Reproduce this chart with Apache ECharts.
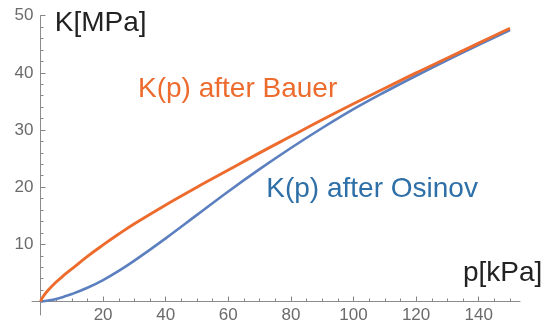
<!DOCTYPE html>
<html>
<head>
<meta charset="utf-8">
<script src="https://cdn.jsdelivr.net/npm/echarts@6/dist/echarts.min.js"></script>
<style>
  html, body { margin: 0; padding: 0; background: #ffffff; }
  #chart { width: 553px; height: 325px; }
</style>
</head>
<body>
<div id="chart"></div>
<script>
// Pressure p [kPa] at which both stiffness curves are sampled
const pressure = [0, 0.5, 1, 2.5, 5, 7.5, 10, 15, 20, 25, 30, 40, 50, 60, 70, 80, 90, 100, 110, 120, 130, 140, 150];
// Bulk modulus K [MPa] after Bauer
const kBauer   = [0, 0.55, 1.0, 2.0, 3.4, 4.6, 5.7, 7.9, 9.9, 11.8, 13.6, 16.9, 20.0, 23.0, 26.0, 28.9, 31.8, 34.6, 37.3, 40.0, 42.6, 45.2, 47.8];
// Bulk modulus K [MPa] after Osinov
const kOsinov  = [0, 0.02, 0.05, 0.17, 0.45, 0.85, 1.3, 2.4, 3.75, 5.35, 7.15, 11.05, 15.15, 19.25, 23.15, 26.85, 30.35, 33.65, 36.65, 39.5, 42.25, 44.9, 47.5];

// Tick label values
const xTickLabels = [20, 40, 60, 80, 100, 120, 140];
const yTickLabels = [10, 20, 30, 40, 50];

const FONT = 'Liberation Sans';
const AXIS_COLOR = '#8c8c8c';
const TICK_COLOR = '#858585';
const LABEL_COLOR = '#6b6b6b';
const ORANGE = '#EC6B2D';
const BLUE = '#5B7FBF';

// Layout: p = 0 sits at x = 40.5 px and K = 0 at y = 301.5 px,
// 3.13 px per kPa and 5.716 px per MPa.
const X0 = 40.5, Y0 = 301.5, PX_PER_KPA = 3.13, PX_PER_MPA = 5.716, TOP = 15.7;
const MAJOR_LEN = 5, MINOR_LEN = 3;

const chart = echarts.init(document.getElementById('chart'), null, { renderer: 'canvas' });

// Tick marks are drawn as split lines of thin strip grids lying along the axes
function tickStripAxis(gridIndex, min, max, interval, labels, margin) {
  return {
    gridIndex: gridIndex, type: 'value', min: min, max: max, interval: interval,
    axisLine: { show: false },
    axisTick: { show: false },
    axisLabel: labels
      ? { show: true, margin: margin, color: LABEL_COLOR, fontFamily: FONT, fontSize: 17,
          formatter: v => labels.includes(v) ? String(v) : '' }
      : { show: false },
    splitLine: { show: true, showMinLine: true, showMaxLine: true,
                 lineStyle: { color: TICK_COLOR, width: 1, type: 'solid' } },
    splitArea: { show: false }
  };
}
function dummyAxis(gridIndex) {
  return { gridIndex: gridIndex, type: 'value', min: 0, max: 1, show: false };
}

chart.setOption({
  animation: false,
  backgroundColor: '#ffffff',
  grid: [
    // 0: data grid, its axes reach slightly past the origin
    { left: X0 - 2.7 * PX_PER_KPA, top: TOP, width: 155.9 * PX_PER_KPA, height: 52.36 * PX_PER_MPA },
    // 1: major ticks and labels of the p axis
    { left: X0, top: Y0 - MAJOR_LEN, width: 140 * PX_PER_KPA, height: MAJOR_LEN },
    // 2: minor ticks of the p axis
    { left: X0, top: Y0 - MINOR_LEN, width: 150 * PX_PER_KPA, height: MINOR_LEN },
    // 3: major ticks and labels of the K axis
    { left: X0, top: TOP, width: MAJOR_LEN, height: 50 * PX_PER_MPA },
    // 4: minor ticks of the K axis
    { left: X0, top: TOP, width: MINOR_LEN, height: 50 * PX_PER_MPA }
  ],
  xAxis: [
    { gridIndex: 0, type: 'value', min: -2.7, max: 153.2,
      axisLine: { show: true, onZero: true, lineStyle: { color: AXIS_COLOR, width: 1 } },
      axisTick: { show: false }, axisLabel: { show: false }, splitLine: { show: false } },
    tickStripAxis(1, 0, 140, 20, xTickLabels, 5),
    tickStripAxis(2, 0, 150, 5, null, 0),
    dummyAxis(3),
    dummyAxis(4)
  ],
  yAxis: [
    { gridIndex: 0, type: 'value', min: -2.36, max: 50,
      axisLine: { show: true, onZero: true, lineStyle: { color: AXIS_COLOR, width: 1 } },
      axisTick: { show: false }, axisLabel: { show: false }, splitLine: { show: false } },
    dummyAxis(1),
    dummyAxis(2),
    tickStripAxis(3, 0, 50, 10, yTickLabels, 7),
    tickStripAxis(4, 0, 50, 2, null, 0)
  ],
  series: [
    {
      name: 'K(p) after Osinov', type: 'line', xAxisIndex: 0, yAxisIndex: 0,
      data: pressure.map((p, i) => [p, kOsinov[i]]),
      smooth: 0.4, showSymbol: false, z: 3,
      lineStyle: { color: BLUE, width: 2.6 }
    },
    {
      name: 'K(p) after Bauer', type: 'line', xAxisIndex: 0, yAxisIndex: 0,
      data: pressure.map((p, i) => [p, kBauer[i]]),
      smooth: 0.4, showSymbol: false, z: 4,
      lineStyle: { color: ORANGE, width: 2.9 }
    }
  ],
  graphic: [
    { type: 'text', left: 54.7, top: 9, style: { text: 'K[MPa]', fill: '#222222', font: '28px "Liberation Sans"' } },
    { type: 'text', left: 463, top: 259, style: { text: 'p[kPa]', fill: '#222222', font: '28px "Liberation Sans"' } },
    { type: 'text', left: 138, top: 75, style: { text: 'K(p) after Bauer', fill: ORANGE, font: '28px "Liberation Sans"' } },
    { type: 'text', left: 266.3, top: 175, style: { text: 'K(p) after Osinov', fill: '#2D6FA6', font: '28px "Liberation Sans"' } }
  ]
});
</script>
</body>
</html>
